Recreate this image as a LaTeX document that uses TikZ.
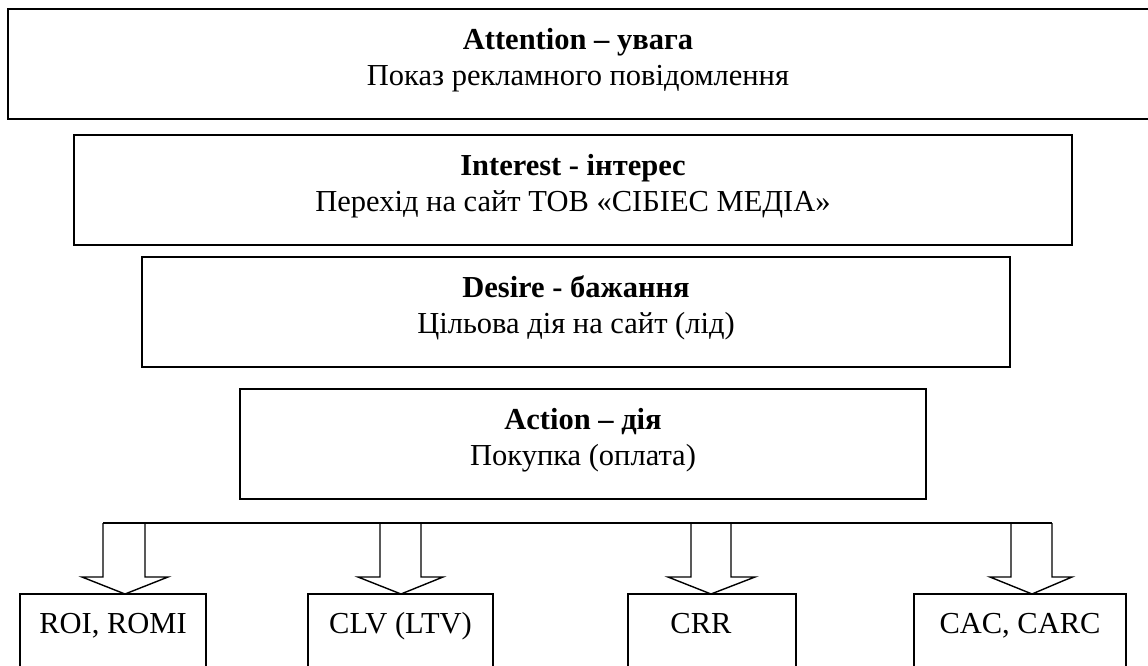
\documentclass[tikz,border=0pt]{standalone}
\usepackage{fontspec}
\setmainfont{Liberation Serif}
\usetikzlibrary{calc}
\begin{document}
\begin{tikzpicture}[x=1pt,y=-1pt,
  bigbox/.style={draw, line width=2.6pt, inner sep=0pt, outer sep=0pt, minimum height=110pt},
  openbox/.style={draw=none, inner sep=0pt, outer sep=0pt, minimum height=110pt},
  edge/.style={line width=2.6pt, line cap=rect},
  smallbox/.style={draw, line width=1.3pt, inner sep=0pt, outer sep=0pt, minimum height=110pt},
  txt/.style={anchor=base, inner sep=0pt, font=\fontsize{30.5}{36}\selectfont},
  blockarrow/.style={draw, line width=1.4pt, line join=miter}]
\useasboundingbox (0,0) rectangle (1148,665);
\clip (0,0) rectangle (1148,665);
\fill[white] (0,0) rectangle (1148,665);
% funnel boxes (the first one runs past the right edge)
\node[openbox, minimum width=1300pt] (att) at (658,64) {};
\draw[edge] (att.north east) -- (att.north west) -- (att.south west) -- (att.south east);
\node[bigbox, minimum width=998pt] (int) at (573,190) {};
\node[bigbox, minimum width=868pt] (des) at (576,312) {};
\node[bigbox, minimum width=686pt] (act) at (583,444) {};
% texts
\node[txt] (att1) at ($(att.north)+(-80,40)$) {\bfseries Attention – увага};
\node[txt] (att2) at ($(att.north)+(-80,76)$) {Показ рекламного повідомлення};
\node[txt] (int1) at ($(int.north)+(0,40)$) {\bfseries Interest - інтерес};
\node[txt] (int2) at ($(int.north)+(0,76)$) {Перехід на сайт ТОВ «СІБІЕС МЕДІА»};
\node[txt] (des1) at ($(des.north)+(0,40)$) {\bfseries Desire - бажання};
\node[txt] (des2) at ($(des.north)+(0,76)$) {Цільова дія на сайт (лід)};
\node[txt] (act1) at ($(act.north)+(0,40)$) {\bfseries Action – дія};
\node[txt] (act2) at ($(act.north)+(0,76)$) {Покупка (оплата)};
% metric boxes
\node[smallbox, minimum width=186pt] (m1) at (113,649) {};
\node[smallbox, minimum width=185pt] (m2) at (400.5,649) {};
\node[smallbox, minimum width=168pt] (m3) at (712,649) {};
\node[smallbox, minimum width=212pt] (m4) at (1020,649) {};
\node[txt] (m1t) at ($(m1.north)+(0,39)$) {ROI, ROMI};
\node[txt] (m2t) at ($(m2.north)+(0,39)$) {CLV (LTV)};
\node[txt] (m3t) at ($(m3.north)+(-11,39)$) {CRR};
\node[txt] (m4t) at ($(m4.north)+(0,39)$) {CAC, CARC};
% bus line
\coordinate (busL) at (103,523);
\coordinate (busR) at (1052,523);
\draw[line width=1.4pt] (busL) -- (busR);
% block arrows
\foreach \xl/\xr/\hl/\hr/\tx in {103/145/82/168/125, 380/421/358/443/401, 691/731/668/755/711, 1011/1052/990/1072/1032}{
  \draw[blockarrow] (\xl,523) -- (\xl,577) -- (\hl,577) -- (\tx,594) -- (\hr,577) -- (\xr,577) -- (\xr,523);
}
\end{tikzpicture}
\end{document}
